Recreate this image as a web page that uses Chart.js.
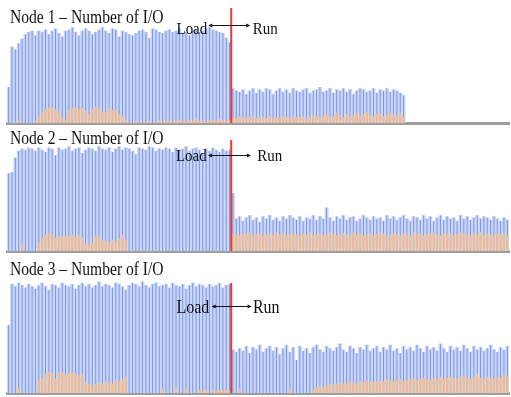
<!DOCTYPE html>
<html><head><meta charset="utf-8">
<script src="https://cdn.jsdelivr.net/npm/chart.js@4.4.0/dist/chart.umd.min.js"></script>
<style>
html,body{margin:0;padding:0;background:#fff;width:511px;height:397px;overflow:hidden;position:relative}
canvas{position:absolute;left:0}
.t{position:absolute;left:10px;font-family:"Liberation Serif",serif;font-size:19px;line-height:19px;white-space:nowrap;transform:scaleX(0.82);transform-origin:0 0;color:#111}
</style></head><body>
<canvas id="c1" width="511" height="126" style="top:0px"></canvas>
<canvas id="c2" width="511" height="127" style="top:128px"></canvas>
<canvas id="c3" width="511" height="141" style="top:256px"></canvas>
<div class="t" id="t1" style="top:7px"></div>
<div class="t" id="t2" style="top:128px"></div>
<div class="t" id="t3" style="top:259px"></div>
<script>
// ---- data ----
const titles = ["Node 1 – Number of I/O", "Node 2 – Number of I/O", "Node 3 – Number of I/O"];
const phaseLabels = ["Load", "Run"];
const steps = Array.from({length: 150}, (_, i) => i + 1);
const loadSteps = 67; // first Run step index

const node1Blue = [
 31,66,64,69,73,77,79,80,76,80, 79,81,77,80,82,78,75,80,81,83,
 79,76,80,82,80,77,79,81,83,80, 78,82,81,75,80,79,77,76,78,80,
 81,79,74,82,81,79,78,80,81,79, 80,82,78,79,76,80,81,79,80,82,
 83,81,80,79,78,74,70,
 30,28,27,29,25,28,30,26,29,27, 30,29,25,28,30,27,29,26,30,28,
 27,29,30,26,28,29,31,27,28,30, 26,29,28,30,27,29,25,28,30,29,
 27,28,30,26,29,28,30,27,29,28, 26,24];
const node1Orange = [
 0,0,1,3,0,0,0,0,2,
 6,9,12,13,14,12,10,5,3,11,13,14,12,13,11,8,12,14,13,10,9,13,11,12,8,6,3,
 1,0,2,1,0,1,2,0,1,3,1,2,3,1,2,3,2,1,3,2,4,2,3,1,2,3,2,4,3,2,3,
 5,4,6,5,4,5,6,4,5,5, 4,6,5,5,4,6,5,4,6,5, 5,6,4,5,7,6,5,6,8,5,
 6,9,7,5,8,6,7,9,6,8, 10,7,6,8,9,6,7,9,8,6, 9,5];

const node2Blue = [
 70,71,84,90,92,91,93,92,90,93, 91,89,93,92,86,93,91,92,94,90,
 92,93,88,91,93,92,90,94,92,91, 93,89,92,94,91,93,92,90,87,93,
 92,91,94,93,90,92,91,93,92,89, 93,91,92,94,90,92,93,91,88,92,
 90,93,91,89,92,90,91,
 52,
 29,31,27,30,32,28,30,26,31,29, 32,28,30,27,31,29,32,30,28,31,
 27,30,29,32,28,31,29,39,30,27, 31,29,32,28,30,31,27,29,32,30,
 28,31,29,30,27,32,29,31,28,30, 32,29,27,31,30,28,32,29,31,27,
 30,32,28,31,29,30,27,32,29,31, 28,30,32,29,31,30,28,31,29,27,
 30,28];
const node2Orange = [
 0,0,0,0,7,0,0,0,0,
 8,12,15,16,15,12,13,14,13,14,15,13,14,12,7,6,8,14,13,10,9,8,10,9,11,15,10,
 0,1,0,0,1,0,0,0,1,0, 0,0,1,0,0,0,0,1,0,0, 0,1,0,0,0,0,1,0,0,0, 0,
 16,15,14,16,15,17,14,15,16,14, 15,16,14,17,15,16,14,15,16,15,
 14,16,15,17,14,15,16,14,15,17, 16,14,15,16,15,14,17,15,16,14,
 15,16,14,15,17,16,14,15,16,15, 14,16,15,14,17,15,16,14,15,16,
 17,15,14,16,15,16,14,15,17,16, 15,14,16,15,17,14,16,15,14,16,
 15,16,14];

const node3Blue = [
 58,93,91,94,92,90,93,91,89,92, 94,91,88,93,92,90,94,92,91,93,
 89,92,94,91,93,90,92,95,91,93, 92,90,94,93,91,88,92,94,93,91,
 95,92,90,93,94,91,92,93,90,94, 92,91,93,89,92,94,91,93,92,90,
 93,91,92,94,90,92,93,
 37,35,38,36,40,34,39,37,41,35, 38,40,36,39,33,38,41,35,39,28,
 40,36,38,34,39,41,37,35,40,38, 36,39,42,37,35,40,38,34,39,37,
 41,36,38,40,35,39,37,41,36,38, 34,40,37,39,36,41,38,35,40,37,
 39,36,42,38,35,40,37,39,36,41, 38,35,40,37,39,36,38,41,37,35,
 39,37,40];
const node3Orange = [
 0,0,0,5,0,0,0,0,0,
 11,13,16,18,17,12,17,18,16,17,18,17,15,16,9,8,7,8,9,8,10,9,8,11,10,12,14,
 0,0,0,0,0,0,0,0,0,0, 4,0,0,0,5,0,0,4,0,0, 0,3,2,3,0,3,2,3,2,3, 2,
 0,0,4,0,0,0,0,0,0,0, 0,0,0,0,0,0,0,4,0,0, 0,0,0,0,3,
 5,6,5,7,8,7,8,9,8,9, 10,9,8,10,9,11,10,9,10,11,
 10,12,11,10,11,12,10,11,12,13, 11,12,13,12,11,13,12,14,12,13,
 14,13,12,14,15,13,12,14,16,13, 12,14,13,12,14,13,16,14];

// ---- drawing ----
const phasePlugin = {
  id: 'phase',
  afterDatasetsDraw(chart, args, o) {
    const {ctx, chartArea, scales: {x, y}} = chart;
    const rx = (x.getPixelForValue(o.split - 1) + x.getPixelForValue(o.split)) / 2;
    ctx.save();
    ctx.strokeStyle = '#e53a3a';
    ctx.lineWidth = 2;
    ctx.beginPath();
    ctx.moveTo(rx, y.getPixelForValue(o.redTop));
    ctx.lineTo(rx, chartArea.bottom);
    ctx.stroke();
    const ay = Math.round(y.getPixelForValue(o.arrowY)) + 0.5;
    const x0 = rx - o.arrowL, x1 = rx + o.arrowR;
    ctx.strokeStyle = '#111'; ctx.fillStyle = '#111'; ctx.lineWidth = 1;
    ctx.beginPath(); ctx.moveTo(x0 + 2, ay); ctx.lineTo(x1 - 2, ay); ctx.stroke();
    ctx.beginPath(); ctx.moveTo(x0, ay); ctx.lineTo(x0 + 4, ay - 2); ctx.lineTo(x0 + 4, ay + 2); ctx.closePath(); ctx.fill();
    ctx.beginPath(); ctx.moveTo(x1, ay); ctx.lineTo(x1 - 4, ay - 2); ctx.lineTo(x1 - 4, ay + 2); ctx.closePath(); ctx.fill();
    const ty = y.getPixelForValue(o.textY);
    ctx.font = o.font + 'px "Liberation Serif", serif';
    ctx.textBaseline = 'alphabetic';
    ctx.save(); ctx.translate(rx - o.loadGap, ty); ctx.scale(o.sx, 1);
    ctx.textAlign = 'right'; ctx.fillText(phaseLabels[0], 0, 0); ctx.restore();
    ctx.save(); ctx.translate(rx + o.runGap, ty); ctx.scale(o.sx, 1);
    ctx.textAlign = 'left'; ctx.fillText(phaseLabels[1], 0, 0); ctx.restore();
    ctx.restore();
  }
};

function makeChart(id, blue, orange, pad, phase) {
  return new Chart(document.getElementById(id), {
    type: 'bar',
    data: {
      labels: steps,
      datasets: [
        {label: 'Write', data: orange, backgroundColor: '#f2ba8a', grouped: false, barPercentage: 0.65, categoryPercentage: 1, order: 0},
        {label: 'Read', data: blue, backgroundColor: '#7896e8', grouped: false, barPercentage: 0.3, categoryPercentage: 1, order: 1},
        {label: 'Read (range)', data: blue, backgroundColor: '#ccd7f7', grouped: false, barPercentage: 1, categoryPercentage: 1, order: 2}
      ]
    },
    options: {
      responsive: false, animation: false, devicePixelRatio: 1,
      layout: {padding: pad},
      plugins: {legend: {display: false}, tooltip: {enabled: false}, title: {display: false}, phase: phase},
      scales: {
        x: {display: true, ticks: {display: false}, grid: {display: false, drawTicks: false},
            border: {display: true, color: '#9d9d9d', width: 3}},
        y: {display: false, min: 0, max: 100}
      }
    },
    plugins: [phasePlugin]
  });
}

makeChart('c1', node1Blue, node1Orange, {top: 8, bottom: 3, left: 7, right: 2},
  {split: loadSteps, redTop: 100, arrowY: 85, textY: 77.5, loadGap: 24, arrowL: 23, arrowR: 19, runGap: 21.5, font: 17, sx: 0.88});
makeChart('c2', node2Blue, node2Orange, {top: 12, bottom: 4, left: 7, right: 2},
  {split: loadSteps, redTop: 100, arrowY: 86.5, textY: 81.4, loadGap: 24.6, arrowL: 23.3, arrowR: 19.7, runGap: 26, font: 17, sx: 0.88});
makeChart('c3', node3Blue, node3Orange, {top: 20, bottom: 4, left: 7, right: 2},
  {split: loadSteps, redTop: 94, arrowY: 74.6, textY: 68.6, loadGap: 22, arrowL: 19.6, arrowR: 20.4, runGap: 21.7, font: 19, sx: 0.84});

titles.forEach((t, i) => { document.getElementById('t' + (i + 1)).textContent = t; });
</script>
</body></html>
